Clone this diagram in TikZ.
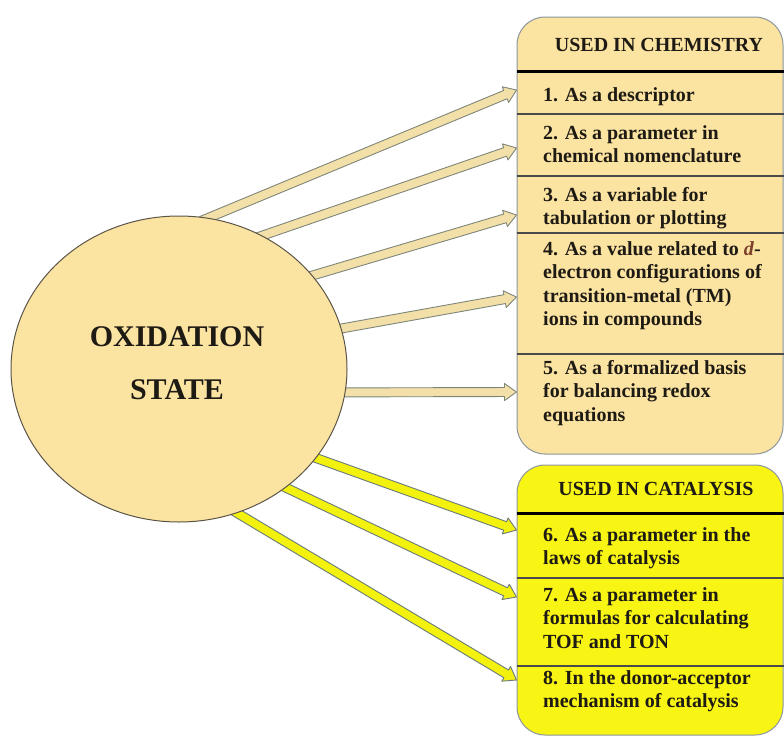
\documentclass[tikz,border=0pt]{standalone}
\usepackage{fontspec}
\setmainfont{LiberationSerif}[Extension=.ttf, UprightFont=*-Regular, BoldFont=*-Bold,
  ItalicFont=*-Italic, BoldItalicFont=*-BoldItalic]
\usetikzlibrary{calc,shapes.geometric}

\definecolor{chemfill}{HTML}{FBE3A1}
\definecolor{catfill}{HTML}{F8F414}
\definecolor{boxline}{HTML}{8C969C}
\definecolor{ovalline}{HTML}{5A5548}
\definecolor{chemarrowfill}{HTML}{F3E0A8}
\definecolor{chemarrowline}{HTML}{7E8679}
\definecolor{catarrowfill}{HTML}{F2F20E}
\definecolor{catarrowline}{HTML}{6A7A7A}
\definecolor{divline}{HTML}{4A4A4A}
\definecolor{ink}{HTML}{1E1A14}
\definecolor{dletter}{HTML}{7B3F2A}

\newcommand\boxfont{\fontsize{20}{23.5}\selectfont\bfseries}
\newcommand\ovalfont{\fontsize{30}{53}\selectfont\bfseries}

\pgfdeclarelayer{background}
\pgfsetlayers{background,main}

% block arrow: #1 style, #2 start, #3 tip (start is pushed slightly back)
\newcommand\blockarrow[3]{%
  \coordinate (ba-e) at (#3);
  \coordinate (ba-s) at ($(#2)!-8pt!(ba-e)$);
  \coordinate (ba-h) at ($(ba-e)!12pt!(ba-s)$);
  \draw[#1] ($(ba-s)!4.5pt!90:(ba-e)$) -- ($(ba-h)!4.5pt!-90:(ba-s)$)
    -- ($(ba-h)!8.5pt!-90:(ba-s)$) -- (ba-e) -- ($(ba-h)!8.5pt!90:(ba-s)$)
    -- ($(ba-h)!4.5pt!90:(ba-s)$) -- ($(ba-s)!4.5pt!-90:(ba-e)$) -- cycle;
}

\begin{document}
\begin{tikzpicture}[x=1pt,y=-1pt,
  box/.style={draw=boxline, line width=1pt, rounded corners=28pt,
    minimum width=266pt, inner sep=0, rectangle},
  item/.style={anchor=north west, inner sep=0, align=left, font=\boxfont, text=ink},
  head/.style={anchor=north, inner sep=0, font=\boxfont, text=ink},
  chemarrow/.style={draw=chemarrowline, fill=chemarrowfill, line width=0.9pt, line join=round},
  catarrow/.style={draw=catarrowline, fill=catarrowfill, line width=0.9pt, line join=round},
  divider/.style={draw=divline, line width=1.1pt},
  headrule/.style={draw=black, line width=3pt}]

\useasboundingbox (0,0) rectangle (784,736);

% central oval
\node[ellipse, draw=ovalline, fill=chemfill, line width=1pt,
  minimum width=336pt, minimum height=306pt, inner sep=0] (os) at (179,369) {};
\node[align=center, inner sep=0, font=\ovalfont, text=ink] (ostext) at (177,363.5)
  {OXIDATION\\STATE};

% the two list boxes
\node[box, fill=chemfill, minimum height=437pt] (chem) at (650,235.5) {};
\node[box, fill=catfill, minimum height=270pt] (cat) at (650,600) {};

% header rules and dividers
\draw[headrule] (chem.west |- 0,71) -- (chem.east |- 0,71);
\draw[divider] (chem.west |- 0,114) -- (chem.east |- 0,114);
\draw[divider] (chem.west |- 0,176) -- (chem.east |- 0,176);
\draw[divider] (chem.west |- 0,233) -- (chem.east |- 0,233);
\draw[divider] (chem.west |- 0,354) -- (chem.east |- 0,354);
\draw[headrule] (cat.west |- 0,513) -- (cat.east |- 0,513);
\draw[divider] (cat.west |- 0,578) -- (cat.east |- 0,578);
\draw[divider] (cat.west |- 0,666) -- (cat.east |- 0,666);

% texts
\node[head] (chemhead) at (659,38) {USED IN CHEMISTRY};
\node[item] (i1) at (543,87) {1. As a descriptor};
\node[item] (i2) at (543,125) {2. As a parameter in\\chemical nomenclature};
\node[item] (i3) at (543,187) {3. As a variable for\\tabulation or plotting};
\node[item] (i4) at (543,241) {4. As a value related to {\color{dletter}\textit{d}}-\\electron configurations of\\transition-metal (TM)\\ions in compounds};
\node[item] (i5) at (543,360) {5. As a formalized basis\\for balancing redox\\equations};
\node[head] (cathead) at (656,482) {USED IN CATALYSIS};
\node[item] (i6) at (543,527) {6. As a parameter in the\\laws of catalysis};
\node[item] (i7) at (543,587) {7. As a parameter in\\formulas for calculating\\TOF and TON};
\node[item] (i8) at (543,670) {8. In the donor-acceptor\\mechanism of catalysis};

% arrow tips on the box edges
\coordinate (t1) at (516.5,90);
\coordinate (t2) at (516.5,148);
\coordinate (t3) at (516.5,215);
\coordinate (t4) at (516.5,297);
\coordinate (t5) at (516.5,392);
\coordinate (t6) at (516.5,530);
\coordinate (t7) at (516.5,597);
\coordinate (t8) at (516.5,680);

\begin{pgfonlayer}{background}
  \blockarrow{chemarrow}{os.79}{t1}
  \blockarrow{chemarrow}{os.58}{t2}
  \blockarrow{chemarrow}{os.35}{t3}
  \blockarrow{chemarrow}{os.14}{t4}
  \blockarrow{chemarrow}{os.-8}{t5}
  \blockarrow{catarrow}{os.-33}{t6}
  \blockarrow{catarrow}{os.-48}{t7}
  \blockarrow{catarrow}{os.-68}{t8}
\end{pgfonlayer}
\end{tikzpicture}
\end{document}
